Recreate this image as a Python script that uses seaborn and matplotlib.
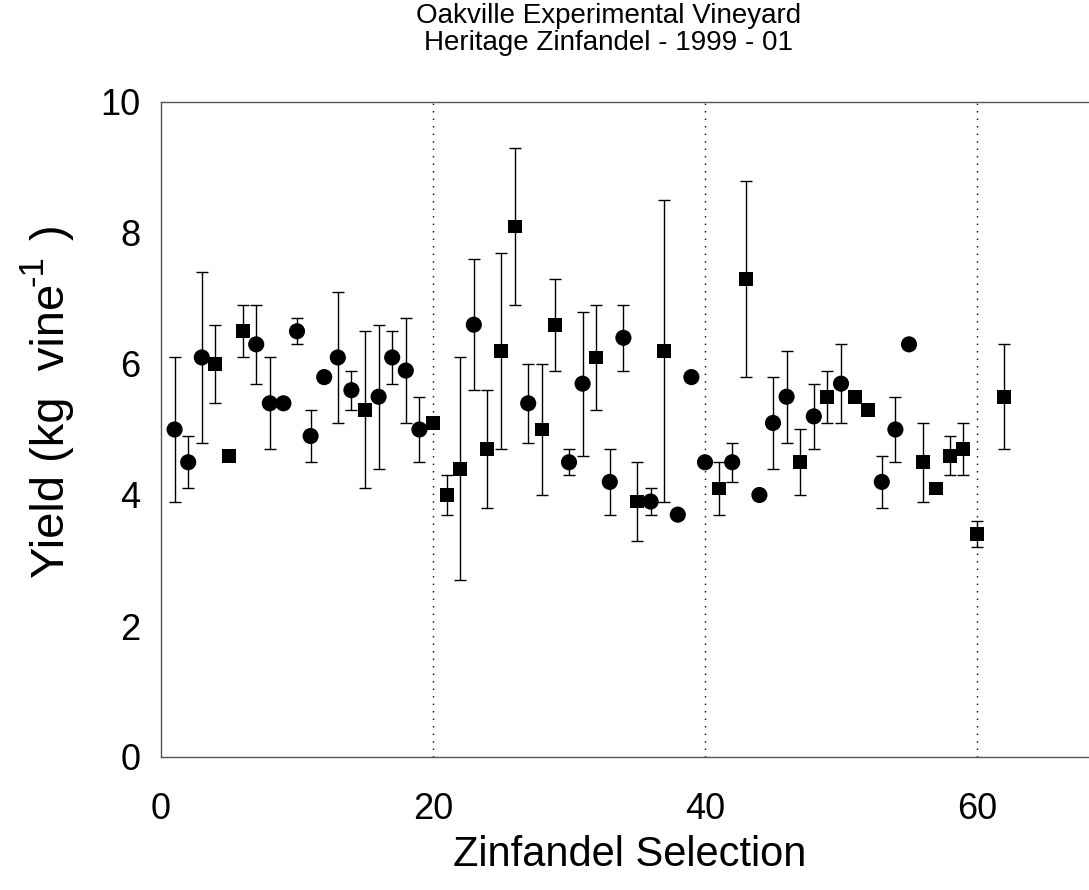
import numpy as np
import pandas as pd
import matplotlib
matplotlib.use("Agg")
import matplotlib.pyplot as plt
import seaborn as sns

# Heritage Zinfandel yield per selection (kg/vine), error = +/- half bar
selection = [1, 2, 3, 4, 5, 6, 7, 8, 9, 10,
             11, 12, 13, 14, 15, 16, 17, 18, 19, 20,
             21, 22, 23, 24, 25, 26, 27, 28, 29, 30,
             31, 32, 33, 34, 35, 36, 37, 38, 39, 40,
             41, 42, 43, 44, 45, 46, 47, 48, 49, 50,
             51, 52, 53, 54, 55, 56, 57, 58, 59, 60, 62]
yield_kg = [5.0, 4.5, 6.1, 6.0, 4.6, 6.5, 6.3, 5.4, 5.4, 6.5,
            4.9, 5.8, 6.1, 5.6, 5.3, 5.5, 6.1, 5.9, 5.0, 5.1,
            4.0, 4.4, 6.6, 4.7, 6.2, 8.1, 5.4, 5.0, 6.6, 4.5,
            5.7, 6.1, 4.2, 6.4, 3.9, 3.9, 6.2, 3.7, 5.8, 4.5,
            4.1, 4.5, 7.3, 4.0, 5.1, 5.5, 4.5, 5.2, 5.5, 5.7,
            5.5, 5.3, 4.2, 5.0, 6.3, 4.5, 4.1, 4.6, 4.7, 3.4, 5.5]
yield_err = [1.1, 0.4, 1.3, 0.6, np.nan, 0.4, 0.6, 0.7, np.nan, 0.2,
             0.4, np.nan, 1.0, 0.3, 1.2, 1.1, 0.4, 0.8, 0.5, np.nan,
             0.3, 1.7, 1.0, 0.9, 1.5, 1.2, 0.6, 1.0, 0.7, 0.2,
             1.1, 0.8, 0.5, 0.5, 0.6, 0.2, 2.3, np.nan, np.nan, np.nan,
             0.4, 0.3, 1.5, np.nan, 0.7, 0.7, 0.5, 0.5, 0.4, 0.6,
             np.nan, np.nan, 0.4, 0.5, np.nan, 0.6, np.nan, 0.3, 0.4, 0.2, 0.8]
shape = ["c", "c", "c", "s", "s", "s", "c", "c", "c", "c",
         "c", "c", "c", "c", "s", "c", "c", "c", "c", "s",
         "s", "s", "c", "s", "s", "s", "c", "s", "s", "c",
         "c", "s", "c", "c", "s", "c", "s", "c", "c", "c",
         "s", "c", "s", "c", "c", "c", "s", "c", "s", "c",
         "s", "s", "c", "c", "c", "s", "s", "s", "s", "s", "s"]

df = pd.DataFrame({"selection": selection, "yield": yield_kg,
                   "err": yield_err, "shape": shape})

sns.set_style("white")
plt.rcParams["font.family"] = ["Liberation Sans", "DejaVu Sans"]
plt.rcParams["text.color"] = "black"
plt.rcParams["xtick.color"] = "black"
plt.rcParams["ytick.color"] = "black"

W, H = 1089, 890
fig = plt.figure(figsize=(W / 100, H / 100), dpi=100)
ax = fig.add_axes([161 / W, 133 / H, 928 / W, 655 / H])

# dotted separators
for xv in [20, 40, 60]:
    ax.axvline(xv, color="black", lw=1, ls=(0, (1, 4.4)), zorder=1)

ebar = df.dropna(subset=["err"])
ax.errorbar(ebar["selection"], ebar["yield"], yerr=ebar["err"], fmt="none",
            ecolor="black", elinewidth=1, capsize=4.5, capthick=1, zorder=2)

sns.scatterplot(data=df, x="selection", y="yield", style="shape",
                markers={"c": "o", "s": "s"}, size="shape",
                sizes={"c": 135, "s": 100}, color="black", linewidth=0,
                legend=False, ax=ax, zorder=3)

ax.set_xlim(0, 928 / 13.6)
ax.set_ylim(0, 10)
ax.set_xticks([0, 20, 40, 60])
ax.set_yticks([0, 2, 4, 6, 8, 10])
ax.set_xlabel("")
ax.set_ylabel("")

for side in ["left", "bottom", "top"]:
    ax.spines[side].set_color("#555555")
    ax.spines[side].set_linewidth(1.0)
ax.spines["right"].set_visible(False)

ax.tick_params(axis="both", direction="in", length=8, width=1,
               color="#444444", labelcolor="black", labelsize=26)
ax.tick_params(axis="x", pad=25)
ax.tick_params(axis="y", pad=15)

fig.text(609 / W, 1 - 16 / H, "Oakville Experimental Vineyard",
         ha="center", va="center", fontsize=20)
fig.text(609 / W, 1 - 43 / H, "Heritage Zinfandel - 1999 - 01",
         ha="center", va="center", fontsize=20)
fig.text(630 / W, 1 - 855 / H, "Zinfandel Selection",
         ha="center", va="center", fontsize=30)

# y label in pieces: main text, raised "-1", closing bracket
base_x = 64
fig.text(base_x / W, 1 - 578 / H, "Yield (kg  vine", rotation=90,
         rotation_mode="anchor", ha="left", va="baseline", fontsize=34)
fig.text((base_x - 22) / W, 1 - 286 / H, "-1", rotation=90,
         rotation_mode="anchor", ha="left", va="baseline", fontsize=25)
fig.text(base_x / W, 1 - 240 / H, ")", rotation=90,
         rotation_mode="anchor", ha="left", va="baseline", fontsize=34)

fig.savefig("out.png", dpi=100)
